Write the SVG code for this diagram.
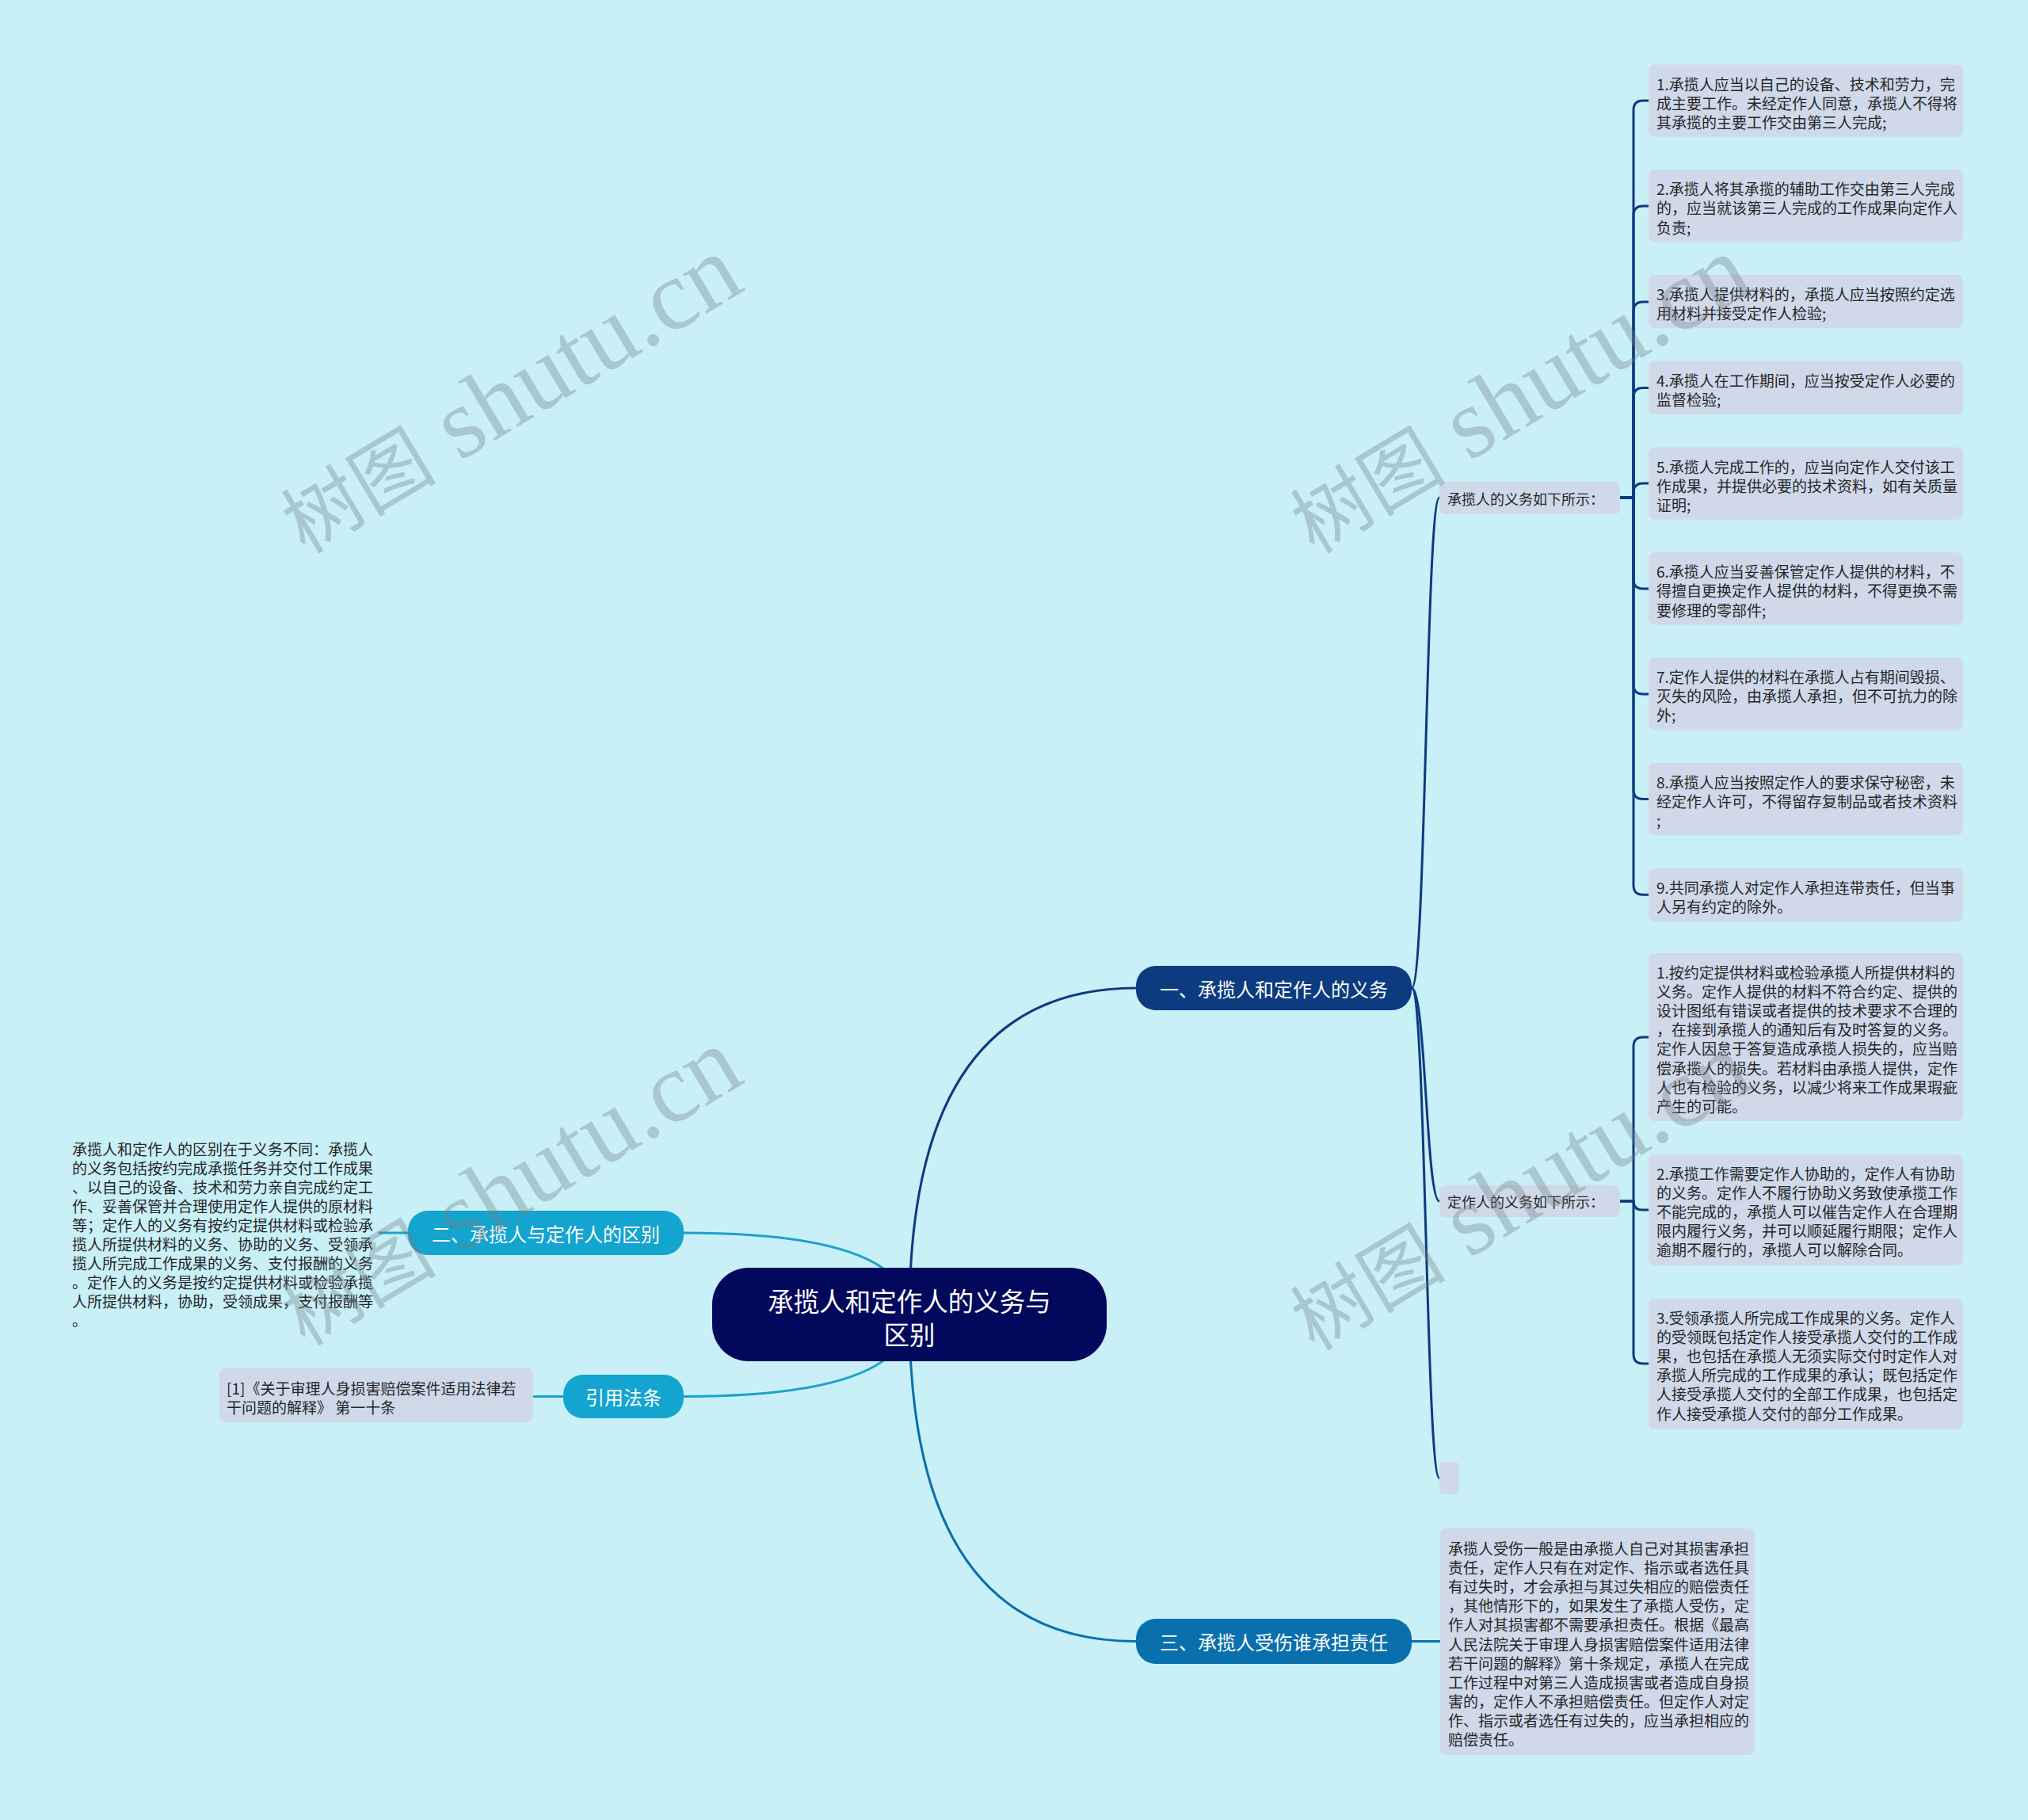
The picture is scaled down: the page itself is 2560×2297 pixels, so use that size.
<svg xmlns="http://www.w3.org/2000/svg" width="2560" height="2297" viewBox="0 0 2560 2297">
<style>
.bg{fill:#c9eff7}
.box{fill:#cfd9ea}
.t{font-family:"Noto Sans CJK SC","Liberation Sans",sans-serif;font-size:19px;fill:#262626;dominant-baseline:central}
.t2{font-family:"Noto Sans CJK SC","Liberation Sans",sans-serif;font-size:18px;fill:#262626;dominant-baseline:central}
.t1{font-family:"Noto Sans CJK SC","Liberation Sans",sans-serif;font-size:24px;fill:#ffffff;dominant-baseline:central;text-anchor:middle}
.t0{font-family:"Noto Sans CJK SC","Liberation Sans",sans-serif;font-size:32.5px;fill:#ffffff;dominant-baseline:central;text-anchor:middle}
.c{fill:none;stroke-width:3;stroke-linecap:round}
.navy{stroke:#0d3b80}
.mid{stroke:#0a70ad}
.cyan{stroke:#1ba3c9}
.wm{fill:rgba(115,128,135,0.36);font-family:"Liberation Serif","Noto Sans CJK SC",serif}
.wc{font-size:98px;font-family:"Noto Sans CJK SC",sans-serif}
.wl{font-size:126px}
</style>
<rect class="bg" x="0" y="0" width="2560" height="2297"/>

<g id="connectors">
<path class="c navy" d="M1148,1659 Q1148,1247 1434,1247"/>
<path class="c mid" d="M1148,1659 Q1148,2071.5 1434,2071.5"/>
<path class="c cyan" d="M1148,1659 Q1148,1556 863,1556"/>
<path class="c cyan" d="M1148,1659 Q1148,1762.5 863,1762.5"/>
<path class="c navy" d="M1782,1247 C1800,1247 1800,628 1817,628"/>
<path class="c navy" d="M1782,1247 C1800,1247 1800,1516 1817,1516"/>
<path class="c navy" d="M1782,1247 C1800,1247 1800,1865.5 1817,1865.5"/>
<path class="c navy" d="M2045,628 H2062 V139 Q2062,127 2074,127 H2081"/>
<path class="c navy" d="M2045,628 H2062 V272 Q2062,260 2074,260 H2081"/>
<path class="c navy" d="M2045,628 H2062 V393 Q2062,381 2074,381 H2081"/>
<path class="c navy" d="M2045,628 H2062 V501.5 Q2062,489.5 2074,489.5 H2081"/>
<path class="c navy" d="M2045,628 H2062 V622 Q2062,610 2074,610 H2081"/>
<path class="c navy" d="M2045,628 H2062 V731 Q2062,743 2074,743 H2081"/>
<path class="c navy" d="M2045,628 H2062 V864 Q2062,876 2074,876 H2081"/>
<path class="c navy" d="M2045,628 H2062 V996.5 Q2062,1008.5 2074,1008.5 H2081"/>
<path class="c navy" d="M2045,628 H2062 V1117.3 Q2062,1129.3 2074,1129.3 H2081"/>
<path class="c navy" d="M2045,1516 H2062 V1321 Q2062,1309 2074,1309 H2081"/>
<path class="c navy" d="M2045,1516 H2062 V1516 Q2062,1527 2073,1527 H2081"/>
<path class="c navy" d="M2045,1516 H2062 V1709 Q2062,1721 2074,1721 H2081"/>
<path class="c mid" d="M1782,2071.5 H1818"/>
<path class="c cyan" d="M515,1556 H479"/>
<path class="c cyan" d="M711,1762.5 H673"/>
</g>

<g id="root">
<rect x="899" y="1600" width="498" height="118" rx="46" fill="#02095c"/>
<text class="t0" x="1148"><tspan x="1148" y="1640">承揽人和定作人的义务与</tspan><tspan x="1148" y="1682">区别</tspan></text>
</g>

<g id="n1">
<rect x="1434" y="1219" width="348" height="56" rx="25" fill="#0d3b80"/>
<text class="t1" x="1608" y="1247">一、承揽人和定作人的义务</text>
</g>
<g id="n3">
<rect x="1434" y="2043" width="348" height="57" rx="25" fill="#0a70ad"/>
<text class="t1" x="1608" y="2071.5">三、承揽人受伤谁承担责任</text>
</g>
<g id="n2">
<rect x="515" y="1528" width="348" height="56" rx="25" fill="#13a5cf"/>
<text class="t1" x="689" y="1556">二、承揽人与定作人的区别</text>
</g>
<g id="n4">
<rect x="711" y="1735" width="152" height="55" rx="25" fill="#13a5cf"/>
<text class="t1" x="787" y="1762.5">引用法条</text>
</g>

<g id="s1">
<rect class="box" x="1817" y="608" width="228" height="41" rx="8"/>
<text class="t2" x="1827" y="628.5">承揽人的义务如下所示：</text>
</g>
<g id="s2">
<rect class="box" x="1817" y="1496" width="228" height="40" rx="8"/>
<text class="t2" x="1827" y="1516">定作人的义务如下所示：</text>
</g>
<g id="s3">
<rect class="box" x="1817" y="1845" width="25" height="41" rx="6"/>
</g>

<g id="c1">
<rect class="box" x="2081" y="81.5" width="397" height="91.3" rx="8"/>
<text class="t"><tspan x="2091" y="104.5">1.承揽人应当以自己的设备、技术和劳力，完</tspan><tspan x="2091" dy="24.1">成主要工作。未经定作人同意，承揽人不得将</tspan><tspan x="2091" dy="24.1">其承揽的主要工作交由第三人完成;</tspan></text>
</g>
<g id="c2">
<rect class="box" x="2081" y="214.3" width="397" height="91.3" rx="8"/>
<text class="t"><tspan x="2091" y="237.3">2.承揽人将其承揽的辅助工作交由第三人完成</tspan><tspan x="2091" dy="24.1">的，应当就该第三人完成的工作成果向定作人</tspan><tspan x="2091" dy="24.1">负责;</tspan></text>
</g>
<g id="c3">
<rect class="box" x="2081" y="347.1" width="397" height="67.2" rx="8"/>
<text class="t"><tspan x="2091" y="370.1">3.承揽人提供材料的，承揽人应当按照约定选</tspan><tspan x="2091" dy="24.1">用材料并接受定作人检验;</tspan></text>
</g>
<g id="c4">
<rect class="box" x="2081" y="455.8" width="397" height="67.2" rx="8"/>
<text class="t"><tspan x="2091" y="478.8">4.承揽人在工作期间，应当按受定作人必要的</tspan><tspan x="2091" dy="24.1">监督检验;</tspan></text>
</g>
<g id="c5">
<rect class="box" x="2081" y="564.5" width="397" height="91.3" rx="8"/>
<text class="t"><tspan x="2091" y="587.5">5.承揽人完成工作的，应当向定作人交付该工</tspan><tspan x="2091" dy="24.1">作成果，并提供必要的技术资料，如有关质量</tspan><tspan x="2091" dy="24.1">证明;</tspan></text>
</g>
<g id="c6">
<rect class="box" x="2081" y="697.3" width="397" height="91.3" rx="8"/>
<text class="t"><tspan x="2091" y="720.3">6.承揽人应当妥善保管定作人提供的材料，不</tspan><tspan x="2091" dy="24.1">得擅自更换定作人提供的材料，不得更换不需</tspan><tspan x="2091" dy="24.1">要修理的零部件;</tspan></text>
</g>
<g id="c7">
<rect class="box" x="2081" y="830.1" width="397" height="91.3" rx="8"/>
<text class="t"><tspan x="2091" y="853.1">7.定作人提供的材料在承揽人占有期间毁损、</tspan><tspan x="2091" dy="24.1">灭失的风险，由承揽人承担，但不可抗力的除</tspan><tspan x="2091" dy="24.1">外;</tspan></text>
</g>
<g id="c8">
<rect class="box" x="2081" y="962.9" width="397" height="91.3" rx="8"/>
<text class="t"><tspan x="2091" y="985.9">8.承揽人应当按照定作人的要求保守秘密，未</tspan><tspan x="2091" dy="24.1">经定作人许可，不得留存复制品或者技术资料</tspan><tspan x="2091" dy="24.1">;</tspan></text>
</g>
<g id="c9">
<rect class="box" x="2081" y="1095.7" width="397" height="67.2" rx="8"/>
<text class="t"><tspan x="2091" y="1118.7">9.共同承揽人对定作人承担连带责任，但当事</tspan><tspan x="2091" dy="24.1">人另有约定的除外。</tspan></text>
</g>

<g id="d1">
<rect class="box" x="2081" y="1203" width="397" height="212" rx="8"/>
<text class="t"><tspan x="2091" y="1226">1.按约定提供材料或检验承揽人所提供材料的</tspan><tspan x="2091" dy="24.1">义务。定作人提供的材料不符合约定、提供的</tspan><tspan x="2091" dy="24.1">设计图纸有错误或者提供的技术要求不合理的</tspan><tspan x="2091" dy="24.1">，在接到承揽人的通知后有及时答复的义务。</tspan><tspan x="2091" dy="24.1">定作人因怠于答复造成承揽人损失的，应当赔</tspan><tspan x="2091" dy="24.1">偿承揽人的损失。若材料由承揽人提供，定作</tspan><tspan x="2091" dy="24.1">人也有检验的义务，以减少将来工作成果瑕疵</tspan><tspan x="2091" dy="24.1">产生的可能。</tspan></text>
</g>
<g id="d2">
<rect class="box" x="2081" y="1457" width="397" height="140" rx="8"/>
<text class="t"><tspan x="2091" y="1480">2.承揽工作需要定作人协助的，定作人有协助</tspan><tspan x="2091" dy="24.1">的义务。定作人不履行协助义务致使承揽工作</tspan><tspan x="2091" dy="24.1">不能完成的，承揽人可以催告定作人在合理期</tspan><tspan x="2091" dy="24.1">限内履行义务，并可以顺延履行期限；定作人</tspan><tspan x="2091" dy="24.1">逾期不履行的，承揽人可以解除合同。</tspan></text>
</g>
<g id="d3">
<rect class="box" x="2081" y="1639" width="397" height="164.5" rx="8"/>
<text class="t"><tspan x="2091" y="1662">3.受领承揽人所完成工作成果的义务。定作人</tspan><tspan x="2091" dy="24.1">的受领既包括定作人接受承揽人交付的工作成</tspan><tspan x="2091" dy="24.1">果，也包括在承揽人无须实际交付时定作人对</tspan><tspan x="2091" dy="24.1">承揽人所完成的工作成果的承认；既包括定作</tspan><tspan x="2091" dy="24.1">人接受承揽人交付的全部工作成果，也包括定</tspan><tspan x="2091" dy="24.1">作人接受承揽人交付的部分工作成果。</tspan></text>
</g>

<g id="e1">
<rect class="box" x="1818" y="1929" width="397" height="286" rx="8"/>
<text class="t"><tspan x="1828" y="1953">承揽人受伤一般是由承揽人自己对其损害承担</tspan><tspan x="1828" dy="24.1">责任，定作人只有在对定作、指示或者选任具</tspan><tspan x="1828" dy="24.1">有过失时，才会承担与其过失相应的赔偿责任</tspan><tspan x="1828" dy="24.1">，其他情形下的，如果发生了承揽人受伤，定</tspan><tspan x="1828" dy="24.1">作人对其损害都不需要承担责任。根据《最高</tspan><tspan x="1828" dy="24.1">人民法院关于审理人身损害赔偿案件适用法律</tspan><tspan x="1828" dy="24.1">若干问题的解释》第十条规定，承揽人在完成</tspan><tspan x="1828" dy="24.1">工作过程中对第三人造成损害或者造成自身损</tspan><tspan x="1828" dy="24.1">害的，定作人不承担赔偿责任。但定作人对定</tspan><tspan x="1828" dy="24.1">作、指示或者选任有过失的，应当承担相应的</tspan><tspan x="1828" dy="24.1">赔偿责任。</tspan></text>
</g>

<g id="b1">
<text class="t"><tspan x="91" y="1448.5">承揽人和定作人的区别在于义务不同：承揽人</tspan><tspan x="91" dy="24.1">的义务包括按约完成承揽任务并交付工作成果</tspan><tspan x="91" dy="24.1">、以自己的设备、技术和劳力亲自完成约定工</tspan><tspan x="91" dy="24.1">作、妥善保管并合理使用定作人提供的原材料</tspan><tspan x="91" dy="24.1">等；定作人的义务有按约定提供材料或检验承</tspan><tspan x="91" dy="24.1">揽人所提供材料的义务、协助的义务、受领承</tspan><tspan x="91" dy="24.1">揽人所完成工作成果的义务、支付报酬的义务</tspan><tspan x="91" dy="24.1">。定作人的义务是按约定提供材料或检验承揽</tspan><tspan x="91" dy="24.1">人所提供材料，协助，受领成果，支付报酬等</tspan><tspan x="91" dy="24.1">。</tspan></text>
</g>

<g id="f1">
<rect class="box" x="277" y="1727" width="396" height="68" rx="8"/>
<text class="t"><tspan x="286" y="1751">[1]《关于审理人身损害赔偿案件适用法律若</tspan><tspan x="286" dy="24.1">干问题的解释》 第一十条</tspan></text>
</g>

<g id="watermarks">
<text class="wm" transform="translate(385,700) rotate(-31)"><tspan class="wc">树图</tspan><tspan class="wl"> shutu.cn</tspan></text>
<text class="wm" transform="translate(1659,700) rotate(-31)"><tspan class="wc">树图</tspan><tspan class="wl"> shutu.cn</tspan></text>
<text class="wm" transform="translate(385,1700) rotate(-31)"><tspan class="wc">树图</tspan><tspan class="wl"> shutu.cn</tspan></text>
<text class="wm" transform="translate(1659,1706) rotate(-31)"><tspan class="wc">树图</tspan><tspan class="wl"> shutu.cn</tspan></text>
</g>
</svg>
